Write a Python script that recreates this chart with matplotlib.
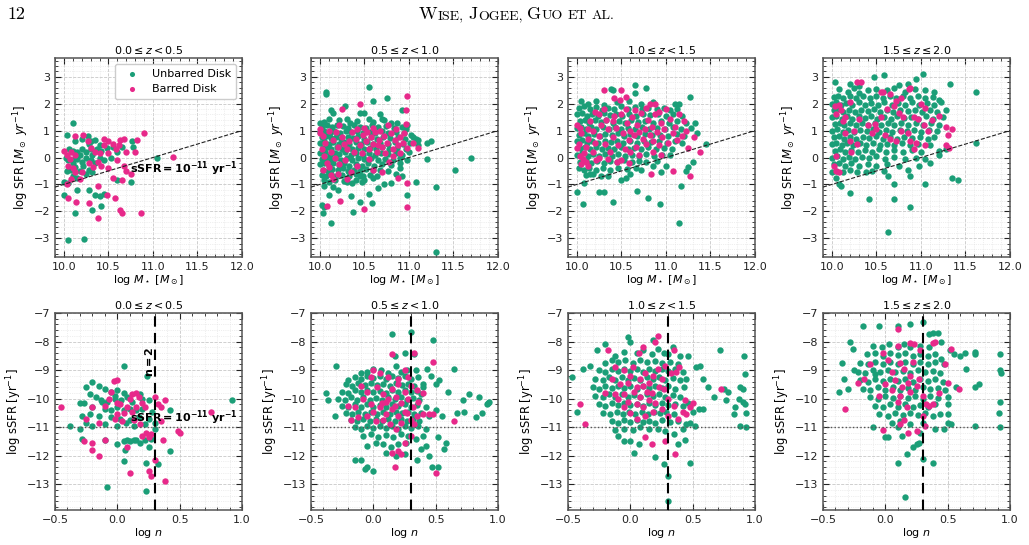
import numpy as np
import matplotlib
matplotlib.use('Agg')
import matplotlib.pyplot as plt
from matplotlib.ticker import MultipleLocator, AutoMinorLocator

# ---------------- data ----------------
z_labels = [r'$0.0 \leq z < 0.5$', r'$0.5 \leq z < 1.0$',
            r'$1.0 \leq z < 1.5$', r'$1.5 \leq z \leq 2.0$']
series_names = ['Unbarred Disk', 'Barred Disk']
ssfr_threshold = -11.0
n_threshold = 2.0

# top row: (log M*, log SFR)
msfr_unbarred_z1 = [
    (10.1, 1.27), (10.04, 0.85), (10.13, 0.6), (10.2, 0.7), (10.27, 0.8), (10.3, 0.6), (10.28, 0.5), (10.35, 0.65), (10.4, 0.45),
    (10.06, 0.3), (10.1, 0.25), (10.15, 0.2), (10.2, 0.3), (10.25, 0.2), (10.3, 0.3), (10.32, 0.1), (10.37, 0.3), (10.42, 0.25),
    (10.48, 0.35), (10.55, 0.4), (10.6, 0.2), (10.53, 0.0), (10.02, 0.0), (10.05, -0.1), (10.1, -0.2), (10.15, -0.05), (10.2, -0.15),
    (10.25, 0.0), (10.3, -0.1), (10.35, -0.2), (10.4, 0.0), (10.45, -0.1), (10.03, -0.5), (10.08, -0.45), (10.12, -0.35), (10.18, -0.5),
    (10.22, -0.3), (10.28, -0.45), (10.1, -0.7), (10.15, -0.75), (10.25, -0.6), (10.32, -0.55), (10.0, -0.9), (10.05, -0.95),
    (10.15, -1.2), (10.28, -1.2), (10.35, -1.4), (10.4, -1.45), (10.45, -1.35), (10.32, -1.95), (10.42, -1.8), (10.12, -2.05),
    (10.0, -1.4), (10.05, -3.08), (10.23, -3.02), (10.78, 0.4), (10.77, 0.6), (10.6, -0.85), (10.75, -0.9), (11.05, 0.0),
    (10.65, 0.4), (10.12, 0.0), (10.18, 0.1)]
msfr_barred_z1 = [
    (10.0, 0.25), (10.03, 0.1), (10.08, 0.2), (10.07, -0.05), (10.12, 0.1), (10.05, -0.3), (10.1, -0.4), (10.13, -0.55), (10.08, -0.8),
    (10.04, -1.0), (10.13, 0.8), (10.21, 0.85), (10.27, 0.6), (10.3, 0.35), (10.35, 0.2), (10.38, -0.15), (10.33, -0.35), (10.28, -0.2),
    (10.2, -0.55), (10.18, -0.8), (10.45, 0.7), (10.5, 0.6), (10.55, 0.5), (10.58, 0.3), (10.63, 0.65), (10.68, 0.68), (10.62, 0.45),
    (10.7, 0.2), (10.68, -0.3), (10.6, -0.1), (10.5, 0.15), (10.45, 0.45), (10.4, 0.15), (10.42, -0.3), (10.5, -0.4), (10.82, 0.65),
    (10.9, 0.92), (10.8, 0.2), (10.7, -0.5), (10.65, -0.85), (10.75, -0.6), (10.55, -0.75), (10.05, -1.5), (10.14, -1.65), (10.28, -1.7),
    (10.38, -1.05), (10.38, -2.25), (10.48, -1.4), (10.57, -1.5), (10.63, -1.95), (10.65, -2.05), (10.87, -2.05), (11.22, 0.02)]

msfr_unbarred_z2 = [
    (10.07, 2.45), (10.07, 2.35), (10.55, 2.62), (10.6, 2.1), (10.75, 2.2), (10.92, 1.78), (10.12, 1.75), (10.15, 1.65), (10.28, 1.9),
    (10.45, 1.65), (10.5, 1.65), (10.68, 1.6), (10.7, 1.45), (10.98, 1.2), (11.05, 0.75), (11.1, 0.65), (11.2, 0.55), (11.25, 0.62),
    (11.2, -0.05), (11.08, -0.9), (11.3, -1.1), (11.52, -0.45), (11.7, -0.02), (11.3, -3.5), (10.12, -2.42), (10.02, -1.78), (10.03, -2.08),
    (10.05, -1.85), (10.37, -2.03), (10.45, -1.65), (10.58, -1.7), (10.55, -1.35), (10.65, -1.15), (10.72, -1.0), (10.8, -0.95),
    (10.85, -0.6), (10.92, -0.7), (10.98, -1.4), (10.9, -0.4), (10.0, 1.3), (10.35, -1.45), (10.2, -1.2), (10.1, -1.4), (10.15, -1.1),
    (10.05, -1.05), (10.3, -0.9), (10.4, -0.85), (10.45, -0.7), (10.5, -0.85), (10.6, -0.75),
    (10.05, 1.32), (10.1, 1.45), (10.22, 1.38), (10.3, 1.42), (10.34, 1.3), (10.42, 1.35), (10.55, 1.43), (10.6, 1.33), (10.72, 1.38),
    (10.8, 1.3), (10.87, 1.28), (10.02, 1.15), (10.08, 1.2), (10.14, 1.12), (10.19, 1.22), (10.26, 1.18), (10.32, 1.1), (10.38, 1.2),
    (10.45, 1.15), (10.52, 1.08), (10.58, 1.2), (10.65, 1.12), (10.74, 1.17), (10.83, 1.1), (10.92, 1.15), (10.97, 1.05),
    (10.0, 0.95), (10.05, 1.0), (10.11, 0.92), (10.16, 0.98), (10.23, 0.9), (10.29, 1.0), (10.35, 0.93), (10.42, 0.97), (10.48, 0.9),
    (10.56, 0.96), (10.62, 0.9), (10.7, 0.98), (10.77, 0.92), (10.86, 0.95), (10.94, 0.9), (11.02, 0.85),
    (10.02, 0.75), (10.07, 0.8), (10.13, 0.72), (10.18, 0.78), (10.24, 0.7), (10.31, 0.77), (10.37, 0.72), (10.43, 0.8), (10.5, 0.7),
    (10.57, 0.75), (10.64, 0.7), (10.71, 0.78), (10.79, 0.72), (10.88, 0.76), (10.96, 0.7), (11.08, 0.7),
    (10.0, 0.55), (10.05, 0.6), (10.1, 0.5), (10.15, 0.57), (10.21, 0.5), (10.27, 0.58), (10.33, 0.52), (10.4, 0.56), (10.46, 0.5),
    (10.53, 0.58), (10.6, 0.5), (10.67, 0.55), (10.76, 0.5), (10.84, 0.56), (10.93, 0.5), (11.01, 0.55),
    (10.03, 0.35), (10.08, 0.4), (10.13, 0.3), (10.19, 0.38), (10.25, 0.32), (10.3, 0.4), (10.36, 0.3), (10.43, 0.37), (10.5, 0.3),
    (10.56, 0.36), (10.63, 0.3), (10.7, 0.38), (10.78, 0.32), (10.87, 0.36), (10.97, 0.3), (11.1, 0.45),
    (10.0, 0.15), (10.06, 0.2), (10.11, 0.1), (10.17, 0.18), (10.22, 0.12), (10.28, 0.2), (10.35, 0.1), (10.41, 0.17), (10.48, 0.1),
    (10.55, 0.16), (10.62, 0.1), (10.69, 0.18), (10.76, 0.12), (10.85, 0.15), (10.92, 0.1), (11.0, 0.2),
    (10.02, -0.05), (10.07, 0.0), (10.12, -0.08), (10.18, -0.02), (10.24, -0.1), (10.3, -0.03), (10.36, -0.08), (10.43, 0.0),
    (10.5, -0.07), (10.57, -0.02), (10.65, -0.1), (10.73, -0.04), (10.82, -0.08), (10.9, -0.02), (10.98, -0.1),
    (10.0, -0.25), (10.05, -0.2), (10.1, -0.3), (10.15, -0.22), (10.21, -0.28), (10.27, -0.2), (10.33, -0.3), (10.4, -0.25),
    (10.47, -0.3), (10.54, -0.22), (10.61, -0.3), (10.7, -0.25), (10.8, -0.28), (10.9, -0.2),
    (10.03, -0.45), (10.09, -0.5), (10.14, -0.42), (10.2, -0.48), (10.26, -0.4), (10.32, -0.5), (10.38, -0.45), (10.45, -0.5),
    (10.52, -0.42), (10.6, -0.48), (10.68, -0.45), (10.77, -0.5),
    (10.02, -0.65), (10.07, -0.7), (10.12, -0.62), (10.18, -0.7), (10.25, -0.65), (10.33, -0.7), (10.41, -0.62), (10.48, -0.68),
    (10.56, -0.65), (10.64, -0.7), (10.05, -0.85), (10.1, -0.9), (10.17, -0.82), (10.27, -0.88), (10.36, -0.95), (10.47, -0.9)]
msfr_barred_z2 = [
    (10.0, 1.05), (10.03, 0.8), (10.06, 0.55), (10.02, 0.3), (10.05, 0.05), (10.08, -0.2), (10.04, -0.45), (10.1, -0.35), (10.12, 0.2),
    (10.15, 0.65), (10.18, 0.95), (10.22, 1.2), (10.25, 0.75), (10.2, 0.4), (10.17, 0.0), (10.22, -0.25), (10.2, -0.6), (10.28, -0.1),
    (10.3, 0.3), (10.33, 0.6), (10.36, 0.95), (10.4, 0.7), (10.38, 0.2), (10.42, -0.3), (10.45, 0.45), (10.48, 0.85), (10.5, 1.1),
    (10.52, 0.6), (10.55, 0.3), (10.57, 0.75), (10.6, 0.5), (10.62, 0.95), (10.64, 0.2), (10.66, 0.65), (10.68, 1.0), (10.7, 0.4),
    (10.72, 0.8), (10.75, 0.55), (10.77, 1.2), (10.8, 0.9), (10.82, 0.3), (10.84, 0.65), (10.86, 1.05), (10.88, 0.45), (10.9, 0.75),
    (10.93, 0.55), (10.95, 0.9), (10.97, 1.25), (10.98, 0.35), (10.55, -0.05), (10.6, -0.45), (10.7, -0.55), (10.78, -0.15),
    (10.88, -0.75), (10.98, -0.95), (10.98, -1.85), (10.6, 1.1), (10.45, 2.0), (10.25, 1.8), (10.98, 2.3), (10.97, 1.75),
    (10.08, -1.8), (10.23, -1.62), (10.5, -1.9), (10.0, 0.9), (10.1, 1.0), (11.05, 0.55), (11.1, 0.35), (10.35, -0.55), (10.3, -0.8),
    (10.47, 0.15), (10.65, 0.45), (10.73, 0.15), (10.82, 0.05), (10.9, 0.15), (10.15, -0.8), (10.12, -0.65), (10.27, 0.5),
    (10.42, 1.05), (10.53, 0.95)]

msfr_unbarred_z3 = [
    (10.0, -1.3), (10.07, -1.72), (10.25, -1.3), (10.3, -1.3), (10.4, -1.65), (10.68, -1.25), (10.8, -1.5), (10.93, -1.73),
    (11.15, -2.45), (11.17, -1.05), (10.95, -0.55), (11.25, -0.35), (11.22, -0.5), (11.3, -0.15), (11.45, 0.5), (11.35, 0.9),
    (11.33, 1.3), (11.27, 2.25), (11.15, 2.0), (10.65, 2.68), (10.78, 2.6), (10.4, 2.5), (10.38, 2.55), (10.65, 2.4), (10.08, -0.95),
    (10.15, -0.6), (10.5, -0.85), (10.6, -0.6), (10.72, -0.45), (10.85, -0.3), (11.0, -0.3), (11.05, 0.1),
    (10.05, 2.1), (10.12, 2.0), (10.22, 2.1), (10.3, 1.95), (10.45, 2.05), (10.58, 2.1), (10.72, 2.0), (10.85, 2.05), (11.1, 2.0),
    (10.02, 1.85), (10.08, 1.9), (10.15, 1.8), (10.21, 1.88), (10.28, 1.78), (10.35, 1.85), (10.42, 1.8), (10.5, 1.9), (10.57, 1.82),
    (10.65, 1.88), (10.73, 1.8), (10.8, 1.85), (10.9, 1.8), (10.98, 1.85), (11.05, 1.75), (11.12, 1.8),
    (10.0, 1.6), (10.06, 1.65), (10.11, 1.55), (10.17, 1.62), (10.24, 1.55), (10.3, 1.65), (10.37, 1.58), (10.44, 1.62), (10.51, 1.55),
    (10.59, 1.6), (10.66, 1.55), (10.74, 1.62), (10.82, 1.57), (10.91, 1.6), (11.0, 1.55), (11.08, 1.6), (11.18, 1.55),
    (10.03, 1.35), (10.09, 1.4), (10.14, 1.3), (10.2, 1.38), (10.27, 1.32), (10.33, 1.4), (10.4, 1.3), (10.47, 1.37), (10.54, 1.3),
    (10.61, 1.38), (10.69, 1.32), (10.77, 1.36), (10.85, 1.3), (10.94, 1.35), (11.03, 1.3), (11.12, 1.35), (11.22, 1.3),
    (10.0, 1.1), (10.05, 1.15), (10.1, 1.05), (10.16, 1.12), (10.22, 1.05), (10.29, 1.13), (10.36, 1.07), (10.43, 1.12), (10.5, 1.05),
    (10.57, 1.1), (10.65, 1.05), (10.73, 1.13), (10.81, 1.07), (10.9, 1.1), (10.99, 1.05), (11.08, 1.12), (11.17, 1.05), (11.28, 1.1),
    (10.02, 0.85), (10.08, 0.9), (10.13, 0.8), (10.19, 0.88), (10.26, 0.8), (10.32, 0.88), (10.39, 0.82), (10.46, 0.9), (10.53, 0.8),
    (10.6, 0.87), (10.68, 0.8), (10.76, 0.88), (10.84, 0.82), (10.93, 0.85), (11.02, 0.8), (11.12, 0.88), (11.2, 0.8),
    (10.0, 0.6), (10.06, 0.65), (10.11, 0.55), (10.17, 0.62), (10.24, 0.55), (10.31, 0.63), (10.38, 0.57), (10.45, 0.62), (10.52, 0.55),
    (10.6, 0.6), (10.67, 0.55), (10.75, 0.62), (10.83, 0.57), (10.92, 0.6), (11.01, 0.55), (11.1, 0.62), (11.18, 0.55),
    (10.03, 0.35), (10.09, 0.4), (10.15, 0.3), (10.21, 0.38), (10.28, 0.3), (10.35, 0.37), (10.42, 0.3), (10.49, 0.38), (10.57, 0.32),
    (10.64, 0.37), (10.72, 0.3), (10.8, 0.38), (10.89, 0.32), (10.98, 0.35), (11.07, 0.3),
    (10.0, 0.1), (10.06, 0.15), (10.12, 0.05), (10.18, 0.12), (10.25, 0.05), (10.32, 0.13), (10.39, 0.07), (10.46, 0.12), (10.54, 0.05),
    (10.62, 0.1), (10.7, 0.05), (10.78, 0.12), (10.87, 0.05), (10.96, 0.1),
    (10.03, -0.15), (10.1, -0.1), (10.16, -0.2), (10.23, -0.12), (10.3, -0.2), (10.37, -0.12), (10.45, -0.18), (10.53, -0.1),
    (10.62, -0.18), (10.7, -0.12), (10.78, -0.18), (10.9, -0.12),
    (10.02, -0.4), (10.08, -0.45), (10.14, -0.38), (10.21, -0.45), (10.29, -0.4), (10.37, -0.45), (10.46, -0.38), (10.56, -0.42),
    (10.66, -0.4), (10.1, -0.65), (10.18, -0.6), (10.27, -0.68), (10.35, -0.7), (10.55, -0.75)]
msfr_barred_z3 = [
    (10.3, 2.52), (10.5, 2.5), (10.42, 2.2), (10.55, 2.25), (10.82, 2.0), (10.88, 2.0), (11.0, 1.8), (11.15, 1.6), (11.2, 1.35),
    (11.32, 0.75), (11.38, 0.2), (11.25, 0.35), (11.27, -0.7), (11.08, -0.5), (10.83, -0.6), (10.58, -0.2), (10.5, -0.1),
    (10.0, 1.2), (10.03, 1.1), (10.05, 0.9), (10.02, 0.5), (10.0, 0.35), (10.04, 0.05), (10.07, -0.05), (10.05, -0.25), (10.1, -0.15),
    (10.12, -0.3), (10.08, 0.15), (10.1, 0.4), (10.13, 0.7), (10.12, 1.05), (10.15, 1.35), (10.18, 1.0), (10.2, 0.55), (10.18, 0.2),
    (10.22, -0.1), (10.25, 0.8), (10.27, 1.2), (10.25, 1.6), (10.3, 1.8), (10.32, 0.5), (10.35, 1.05), (10.33, 1.4), (10.37, 0.2),
    (10.4, 0.75), (10.42, 1.55), (10.44, 1.1), (10.46, 0.45), (10.48, 2.15), (10.5, 1.6), (10.52, 0.9), (10.54, 0.3), (10.56, 1.3),
    (10.58, 0.65), (10.6, 1.0), (10.62, 1.5), (10.64, 0.85), (10.66, 0.4), (10.68, 1.2), (10.7, 0.95), (10.72, 1.65), (10.74, 0.7),
    (10.76, 1.05), (10.78, 0.5), (10.8, 1.4), (10.82, 0.85), (10.84, 1.15), (10.86, 0.6), (10.88, 1.6), (10.9, 0.95), (10.92, 0.45),
    (10.94, 1.3), (10.96, 0.75), (10.98, 1.05), (11.02, 0.55), (11.05, 1.45), (11.08, 0.9), (11.12, 0.65), (11.1, 1.15), (11.18, 0.8),
    (11.22, 1.0), (10.6, 0.2), (10.7, 0.1), (10.85, 0.2), (10.95, 0.1), (10.45, -0.15), (10.35, -0.05), (10.25, 0.0), (10.55, 1.8),
    (10.65, 1.75), (10.78, 1.85), (10.92, 1.7), (10.2, 1.7), (10.4, 1.35)]

msfr_unbarred_z4 = [
    (10.63, -2.78), (10.88, -1.85), (10.42, -1.55), (10.7, -1.55), (10.2, -1.32), (10.7, -1.0), (11.05, -1.0), (10.88, -0.7),
    (10.63, -0.7), (11.35, -0.75), (11.42, -0.82), (11.62, 0.55), (11.62, 2.45), (10.38, -0.55), (10.1, -1.05), (10.08, -1.0),
    (10.05, -0.75), (10.0, -0.55),
    (10.03, 2.8), (10.2, 2.75), (10.47, 3.0), (10.58, 3.05), (10.95, 2.92), (11.02, 3.1), (10.75, 2.7), (10.3, 2.65), (10.85, 2.75),
    (11.33, 2.72), (10.08, 2.55), (10.18, 2.45), (10.25, 2.6), (10.4, 2.5), (10.5, 2.55), (10.62, 2.5), (10.7, 2.6), (10.82, 2.45),
    (10.93, 2.55), (11.05, 2.5), (11.15, 2.45), (10.3, 2.4),
    (10.02, 2.25), (10.07, 2.3), (10.13, 2.2), (10.2, 2.3), (10.27, 2.2), (10.35, 2.28), (10.43, 2.2), (10.5, 2.3), (10.57, 2.22),
    (10.65, 2.28), (10.72, 2.2), (10.8, 2.3), (10.88, 2.2), (10.97, 2.28), (11.05, 2.2), (11.13, 2.25), (11.2, 2.15),
    (10.0, 2.0), (10.05, 2.05), (10.1, 1.95), (10.16, 2.03), (10.23, 1.95), (10.3, 2.05), (10.37, 1.97), (10.44, 2.03), (10.52, 1.95),
    (10.59, 2.05), (10.67, 1.97), (10.74, 2.03), (10.82, 1.95), (10.9, 2.05), (10.98, 1.97), (11.07, 2.03), (11.15, 1.95), (11.23, 2.05),
    (10.02, 1.75), (10.08, 1.8), (10.13, 1.7), (10.19, 1.78), (10.26, 1.7), (10.33, 1.78), (10.4, 1.72), (10.47, 1.8), (10.54, 1.7),
    (10.62, 1.77), (10.69, 1.7), (10.77, 1.78), (10.85, 1.72), (10.93, 1.78), (11.01, 1.7), (11.1, 1.77), (11.18, 1.7), (11.28, 1.75),
    (10.0, 1.5), (10.05, 1.55), (10.11, 1.45), (10.17, 1.53), (10.23, 1.45), (10.3, 1.53), (10.37, 1.47), (10.44, 1.55), (10.51, 1.45),
    (10.58, 1.52), (10.66, 1.45), (10.73, 1.53), (10.81, 1.47), (10.89, 1.52), (10.97, 1.45), (11.06, 1.53), (11.14, 1.45), (11.25, 1.5),
    (10.03, 1.25), (10.09, 1.3), (10.14, 1.2), (10.2, 1.28), (10.27, 1.2), (10.34, 1.28), (10.41, 1.22), (10.48, 1.3), (10.55, 1.2),
    (10.63, 1.27), (10.7, 1.2), (10.78, 1.28), (10.86, 1.22), (10.94, 1.27), (11.02, 1.2), (11.11, 1.28), (11.2, 1.2),
    (10.0, 1.0), (10.06, 1.05), (10.12, 0.95), (10.18, 1.03), (10.25, 0.95), (10.32, 1.03), (10.39, 0.97), (10.46, 1.05), (10.53, 0.95),
    (10.61, 1.02), (10.68, 0.95), (10.76, 1.03), (10.84, 0.97), (10.92, 1.02), (11.0, 0.95), (11.09, 1.03), (11.18, 0.97),
    (10.02, 0.75), (10.08, 0.8), (10.14, 0.7), (10.2, 0.78), (10.27, 0.7), (10.35, 0.78), (10.42, 0.72), (10.5, 0.8), (10.57, 0.7),
    (10.65, 0.77), (10.73, 0.7), (10.81, 0.78), (10.9, 0.72), (10.99, 0.77), (11.08, 0.7), (11.15, 0.75),
    (10.0, 0.5), (10.05, 0.55), (10.11, 0.45), (10.17, 0.53), (10.24, 0.45), (10.31, 0.53), (10.38, 0.47), (10.46, 0.55), (10.54, 0.45),
    (10.62, 0.52), (10.7, 0.45), (10.79, 0.53), (10.88, 0.47), (10.97, 0.52), (11.1, 0.45),
    (10.03, 0.25), (10.09, 0.3), (10.15, 0.2), (10.22, 0.28), (10.29, 0.2), (10.37, 0.28), (10.45, 0.22), (10.53, 0.3), (10.61, 0.2),
    (10.7, 0.27), (10.8, 0.2), (10.9, 0.28), (11.0, 0.2), (11.2, 0.25), (11.28, 0.3),
    (10.0, 0.0), (10.06, 0.05), (10.12, -0.05), (10.19, 0.03), (10.26, -0.05), (10.34, 0.03), (10.42, -0.03), (10.5, 0.05),
    (10.6, -0.05), (10.7, 0.02), (10.82, -0.05), (10.95, 0.0), (11.05, -0.05), (11.2, 0.1),
    (10.02, -0.25), (10.08, -0.2), (10.15, -0.3), (10.22, -0.22), (10.3, -0.3), (10.4, -0.25), (10.5, -0.3), (10.62, -0.25),
    (10.75, -0.3), (10.98, -0.3), (11.1, -0.2), (10.05, -0.5), (10.12, -0.55), (10.2, -0.45), (10.28, -0.55), (10.45, -0.5),
    (10.58, -0.5), (10.85, -0.45)]
msfr_barred_z4 = [
    (10.04, 1.9), (10.08, 1.95), (10.1, 1.75), (10.05, 1.6), (10.12, 1.35), (10.15, 1.5), (10.2, 2.05), (10.28, 2.8), (10.33, 2.8),
    (10.3, 1.45), (10.4, 1.2), (10.48, 1.25), (10.57, 2.45), (10.55, 2.45), (10.65, 2.35), (10.62, 1.8), (10.7, 1.9), (10.72, 2.1),
    (10.78, 2.2), (10.88, 2.6), (10.87, 2.55), (10.75, 1.65), (10.8, 1.5), (10.92, 1.5), (10.97, 1.45), (11.0, 2.0), (11.05, 1.85),
    (11.03, 1.2), (11.08, 1.0), (11.12, 1.4), (11.2, 1.55), (11.28, 1.15), (11.35, 1.05), (11.3, 0.85), (11.28, 0.45), (11.32, 0.35),
    (10.5, 1.05), (10.6, 0.85), (10.65, 0.7), (10.72, 0.6), (10.88, 0.6), (10.92, 0.3), (10.95, 0.55), (11.05, 0.45), (10.28, 0.5),
    (10.22, 0.2), (10.05, 0.05), (10.02, -0.3), (10.05, -0.5), (10.08, -0.55), (10.15, 0.9), (10.25, 1.0), (10.2, 0.6), (10.45, 0.9),
    (10.55, 1.5), (10.78, 1.0), (10.85, 0.9)]

# bottom row: (log n, log sSFR)
nssfr_unbarred_z1 = [
    (0.05, -8.85), (0.24, -9.2), (-0.2, -9.4), (-0.25, -9.6), (-0.15, -9.55), (-0.1, -9.65), (-0.05, -9.75), (0.0, -9.7), (0.05, -9.8),
    (-0.22, -9.85), (-0.17, -9.95), (-0.3, -10.15), (-0.27, -10.15), (-0.13, -10.05), (-0.08, -10.1), (-0.02, -10.0), (0.03, -10.05),
    (0.08, -9.95), (0.12, -10.1), (0.18, -9.85), (0.2, -10.0), (0.25, -10.05), (-0.2, -10.3), (-0.1, -10.35), (-0.05, -10.4),
    (0.0, -10.3), (0.05, -10.4), (0.1, -10.35), (0.15, -10.4), (0.2, -10.35), (0.28, -10.45), (-0.28, -10.6), (-0.22, -10.55),
    (-0.15, -10.6), (-0.05, -10.65), (0.02, -10.7), (0.1, -10.75), (0.17, -10.65), (0.25, -10.7), (-0.25, -10.85), (-0.2, -10.95),
    (-0.1, -10.9), (0.0, -10.95), (0.07, -10.85), (0.13, -10.95), (0.22, -10.9), (0.3, -10.85), (0.42, -10.4), (0.92, -10.05),
    (-0.38, -10.95), (-0.3, -11.05), (-0.28, -11.4), (-0.1, -11.45), (0.0, -11.6), (0.05, -11.5), (0.08, -11.45), (0.1, -11.5),
    (0.13, -11.45), (0.15, -11.45), (0.18, -11.55), (0.22, -11.45), (0.25, -11.7), (0.42, -11.85), (0.06, -11.8), (0.05, -12.2),
    (0.23, -12.25), (0.33, -12.3), (0.23, -13.25), (-0.08, -13.1), (0.27, -11.4), (0.3, -11.05), (-0.12, -10.1), (-0.02, -9.9)]
nssfr_barred_z1 = [
    (-0.45, -10.3), (-0.25, -10.7), (-0.2, -10.3), (-0.27, -11.5), (-0.2, -11.55), (-0.2, -11.8), (-0.15, -12.0), (-0.15, -10.85),
    (-0.1, -10.25), (-0.05, -9.75), (-0.03, -9.38), (0.0, -9.35), (-0.07, -10.0), (0.0, -10.15), (0.02, -10.2), (0.05, -10.5),
    (0.0, -10.55), (-0.02, -10.7), (0.04, -10.8), (0.08, -10.3), (0.1, -10.0), (0.12, -9.85), (0.15, -9.8), (0.17, -9.95), (0.2, -10.15),
    (0.22, -10.3), (0.15, -10.3), (0.13, -10.75), (0.18, -10.9), (0.2, -11.3), (0.23, -11.2), (0.25, -11.35), (0.27, -11.25),
    (0.3, -9.95), (0.33, -10.2), (0.35, -10.3), (0.38, -10.05), (0.35, -10.8), (0.37, -11.45), (0.25, -12.55), (0.27, -12.7),
    (0.3, -12.15), (0.38, -12.9), (0.1, -12.6), (-0.1, -11.45), (0.49, -11.15), (0.5, -11.2), (0.75, -10.45), (0.08, -11.7),
    (0.12, -10.45)]

nssfr_unbarred_z2 = [
    (0.15, -7.75), (0.3, -7.65), (0.48, -7.95), (0.25, -8.4), (0.17, -8.5), (0.33, -8.45), (-0.3, -8.85), (0.65, -8.95), (0.53, -9.35),
    (0.6, -9.75), (0.72, -10.05), (0.77, -9.85), (0.85, -9.95), (0.92, -10.15), (0.91, -10.2), (0.93, -10.1), (0.67, -10.5),
    (0.73, -10.45), (0.82, -10.65), (0.87, -10.5), (-0.38, -9.8), (-0.36, -10.05), (-0.31, -10.6), (-0.1, -12.15), (-0.07, -12.45),
    (-0.05, -12.4), (0.0, -12.55), (0.47, -12.4), (0.52, -12.4), (0.58, -11.55), (0.57, -11.75), (0.52, -11.35), (0.45, -12.0),
    (0.38, -11.75), (0.35, -12.15), (0.42, -11.65), (0.45, -10.6), (0.5, -10.4), (0.55, -10.6), (0.46, -9.2), (0.43, -8.95),
    (0.4, -9.6), (0.38, -9.85), (0.5, -9.5),
    (-0.05, -9.05), (0.0, -8.95), (0.06, -9.0), (0.12, -9.1), (0.18, -8.85), (0.22, -9.05), (0.27, -9.0), (0.34, -9.0), (-0.1, -9.1),
    (-0.15, -9.25), (-0.1, -9.3), (-0.05, -9.2), (0.0, -9.28), (0.05, -9.22), (0.1, -9.3), (0.15, -9.2), (0.2, -9.28), (0.25, -9.22),
    (0.3, -9.3), (0.36, -9.25), (-0.2, -9.35),
    (-0.22, -9.5), (-0.17, -9.55), (-0.12, -9.45), (-0.07, -9.52), (-0.02, -9.45), (0.03, -9.53), (0.08, -9.47), (0.13, -9.55),
    (0.18, -9.45), (0.23, -9.52), (0.28, -9.47), (0.33, -9.55), (0.4, -9.5),
    (-0.25, -9.75), (-0.2, -9.8), (-0.15, -9.7), (-0.1, -9.78), (-0.05, -9.7), (0.0, -9.78), (0.05, -9.72), (0.1, -9.8), (0.15, -9.7),
    (0.2, -9.77), (0.25, -9.7), (0.3, -9.78), (0.35, -9.72),
    (-0.28, -10.0), (-0.23, -10.05), (-0.18, -9.95), (-0.13, -10.03), (-0.08, -9.95), (-0.03, -10.03), (0.02, -9.97), (0.07, -10.05),
    (0.12, -9.95), (0.17, -10.02), (0.22, -9.95), (0.27, -10.03), (0.32, -9.97), (0.37, -10.05),
    (-0.25, -10.25), (-0.2, -10.3), (-0.15, -10.2), (-0.1, -10.28), (-0.05, -10.2), (0.0, -10.28), (0.05, -10.22), (0.1, -10.3),
    (0.15, -10.2), (0.2, -10.27), (0.25, -10.2), (0.3, -10.28), (0.35, -10.22), (0.42, -10.3),
    (-0.22, -10.5), (-0.17, -10.55), (-0.12, -10.45), (-0.07, -10.53), (-0.02, -10.45), (0.03, -10.53), (0.08, -10.47),
    (0.13, -10.55), (0.18, -10.45), (0.23, -10.52), (0.28, -10.47), (0.33, -10.55), (0.38, -10.5),
    (-0.18, -10.75), (-0.13, -10.8), (-0.08, -10.7), (-0.03, -10.78), (0.02, -10.7), (0.07, -10.78), (0.12, -10.72), (0.17, -10.8),
    (0.22, -10.7), (0.27, -10.77), (0.32, -10.72), (0.37, -10.8),
    (-0.15, -11.0), (-0.1, -11.05), (-0.05, -10.95), (0.0, -11.03), (0.05, -10.95), (0.1, -11.03), (0.15, -10.97), (0.2, -11.05),
    (0.25, -10.95), (0.3, -11.02), (0.36, -10.97), (0.42, -11.05),
    (-0.08, -11.3), (-0.02, -11.25), (0.04, -11.35), (0.1, -11.28), (0.16, -11.35), (0.22, -11.25), (0.28, -11.32), (0.34, -11.4),
    (0.4, -11.3), (-0.05, -11.65), (0.02, -11.55), (0.08, -11.6), (0.14, -11.7), (0.2, -11.6), (0.26, -11.55), (0.1, -11.9),
    (0.18, -12.0), (0.25, -11.95), (-0.15, -12.15)]
nssfr_barred_z2 = [
    (0.15, -8.45), (0.33, -8.4), (0.48, -8.7), (0.25, -9.0), (0.0, -9.0), (0.05, -9.1), (0.12, -9.25), (0.2, -9.3), (0.28, -9.25),
    (0.3, -9.55), (0.35, -9.7), (0.4, -9.8), (-0.1, -9.55), (-0.05, -9.75), (-0.08, -10.0), (-0.02, -10.2), (0.03, -9.6),
    (0.08, -9.85), (0.1, -10.1), (0.15, -9.65), (0.18, -9.95), (0.22, -10.15), (0.25, -9.75), (0.28, -10.0), (0.32, -10.3),
    (0.36, -10.1), (0.0, -10.45), (0.05, -10.3), (0.1, -10.55), (0.15, -10.35), (0.2, -10.6), (0.25, -10.45), (0.3, -10.75),
    (0.35, -10.6), (-0.05, -10.6), (0.02, -10.8), (0.08, -10.75), (0.13, -10.9), (0.18, -11.05), (0.22, -10.85), (-0.18, -10.75),
    (-0.12, -10.65), (-0.15, -10.3), (-0.2, -10.25), (0.4, -10.55), (0.45, -10.55), (0.48, -10.55), (0.65, -10.8), (0.5, -12.6),
    (0.17, -12.4), (0.2, -11.85), (0.22, -11.95), (0.15, -11.9), (0.25, -11.55), (0.3, -11.3), (0.33, -10.9), (0.12, -10.0),
    (0.07, -10.15), (0.17, -10.25), (0.27, -10.5), (-0.02, -9.25), (0.2, -9.5)]

nssfr_unbarred_z3 = [
    (-0.47, -9.25), (-0.43, -10.45), (-0.38, -8.95), (-0.32, -8.85), (-0.27, -8.3), (-0.2, -8.1), (-0.02, -7.85), (0.0, -8.0),
    (0.18, -7.95), (0.3, -8.45), (0.34, -8.2), (0.4, -8.5), (0.46, -8.5), (0.53, -8.9), (0.56, -8.85), (0.58, -9.3), (0.62, -9.6),
    (0.67, -9.95), (0.72, -8.3), (0.75, -9.65), (0.77, -10.05), (0.78, -9.75), (0.83, -10.55), (0.84, -10.3), (0.87, -10.0),
    (0.88, -9.6), (0.9, -9.65), (0.91, -8.5), (0.92, -9.15), (0.9, -10.1), (0.92, -10.2), (0.93, -10.5), (0.88, -10.95),
    (0.93, -11.0), (0.48, -12.25), (0.38, -11.6), (0.3, -12.7), (0.3, -13.6), (0.27, -12.3), (0.2, -12.05), (0.03, -11.9),
    (0.07, -11.6), (0.0, -11.5), (-0.05, -11.5), (-0.1, -11.3), (0.45, -10.9), (0.5, -10.45), (0.55, -10.35), (0.58, -10.35),
    (0.52, -10.95), (0.48, -10.85), (0.44, -11.45), (0.42, -11.05), (0.46, -10.15),
    (-0.12, -8.5), (-0.05, -8.35), (0.05, -8.4), (0.1, -8.3), (0.17, -8.45), (0.22, -8.25), (0.27, -8.4),
    (-0.2, -8.75), (-0.15, -8.65), (-0.1, -8.7), (-0.04, -8.65), (0.02, -8.75), (0.08, -8.65), (0.13, -8.72), (0.2, -8.68),
    (0.25, -8.75), (0.32, -8.7), (0.38, -8.8),
    (-0.25, -9.0), (-0.2, -9.05), (-0.15, -8.95), (-0.1, -9.03), (-0.05, -8.95), (0.0, -9.03), (0.05, -8.97), (0.1, -9.05),
    (0.15, -8.95), (0.2, -9.02), (0.25, -8.95), (0.3, -9.03), (0.36, -8.97), (0.42, -9.05),
    (-0.28, -9.3), (-0.22, -9.35), (-0.17, -9.25), (-0.12, -9.33), (-0.07, -9.25), (-0.02, -9.33), (0.03, -9.27), (0.08, -9.35),
    (0.13, -9.25), (0.18, -9.32), (0.23, -9.25), (0.28, -9.33), (0.34, -9.27), (0.4, -9.35), (0.45, -9.3),
    (-0.3, -9.6), (-0.25, -9.65), (-0.2, -9.55), (-0.15, -9.63), (-0.1, -9.55), (-0.05, -9.63), (0.0, -9.57), (0.05, -9.65),
    (0.1, -9.55), (0.15, -9.62), (0.2, -9.55), (0.25, -9.63), (0.3, -9.57), (0.36, -9.65), (0.43, -9.6),
    (-0.28, -9.9), (-0.22, -9.95), (-0.17, -9.85), (-0.12, -9.93), (-0.07, -9.85), (-0.02, -9.93), (0.03, -9.87), (0.08, -9.95),
    (0.13, -9.85), (0.18, -9.92), (0.23, -9.85), (0.28, -9.93), (0.34, -9.87), (0.4, -9.95),
    (-0.25, -10.2), (-0.2, -10.25), (-0.15, -10.15), (-0.1, -10.23), (-0.05, -10.15), (0.0, -10.23), (0.05, -10.17), (0.1, -10.25),
    (0.15, -10.15), (0.2, -10.22), (0.25, -10.15), (0.3, -10.23), (0.36, -10.17), (0.42, -10.25),
    (-0.22, -10.5), (-0.16, -10.55), (-0.11, -10.45), (-0.06, -10.53), (-0.01, -10.45), (0.04, -10.53), (0.09, -10.47),
    (0.14, -10.55), (0.19, -10.45), (0.24, -10.52), (0.29, -10.47), (0.35, -10.55),
    (-0.15, -10.8), (-0.1, -10.85), (-0.05, -10.75), (0.0, -10.83), (0.05, -10.75), (0.1, -10.83), (0.15, -10.77), (0.2, -10.85),
    (0.25, -10.75), (0.32, -10.82), (0.38, -10.78),
    (-0.12, -11.1), (-0.05, -11.05), (0.02, -11.1), (0.08, -11.0), (0.15, -11.08), (0.22, -11.05), (0.28, -11.15), (0.35, -11.25)]
nssfr_barred_z3 = [
    (-0.4, -10.2), (-0.36, -10.9), (-0.18, -8.3), (-0.2, -9.8), (-0.15, -9.3), (-0.12, -8.9), (-0.08, -9.5), (-0.05, -9.85),
    (-0.02, -10.1), (0.0, -9.2), (0.02, -8.9), (0.05, -9.6), (0.08, -9.95), (0.1, -10.3), (0.1, -8.2), (0.07, -8.4), (0.12, -9.1),
    (0.15, -9.45), (0.17, -9.8), (0.2, -10.15), (0.22, -8.95), (0.2, -8.0), (0.22, -7.8), (0.25, -9.3), (0.27, -9.65), (0.3, -10.0),
    (0.28, -8.85), (0.33, -9.1), (0.35, -8.3), (0.37, -9.05), (0.39, -8.9), (-0.1, -10.0), (-0.05, -10.3), (0.0, -10.5),
    (0.05, -10.2), (0.12, -10.6), (0.15, -10.05), (0.18, -10.45), (0.25, -10.35), (0.3, -10.6), (0.35, -10.25), (0.38, -10.7),
    (0.42, -10.45), (0.45, -10.55), (0.48, -10.3), (0.5, -10.15), (0.44, -10.05), (0.28, -11.5), (0.12, -11.35), (0.17, -11.6),
    (0.36, -11.95), (0.73, -9.65), (-0.05, -9.0), (-0.12, -9.85), (0.03, -9.75), (0.08, -9.3), (0.13, -9.75), (0.18, -9.2),
    (0.23, -9.6), (0.05, -10.7), (-0.02, -9.45), (0.1, -9.55)]

nssfr_unbarred_z4 = [
    (-0.37, -9.75), (-0.35, -8.75), (-0.33, -9.3), (-0.3, -9.65), (-0.28, -8.0), (-0.26, -8.25), (-0.25, -9.0), (-0.18, -7.45),
    (-0.08, -9.15), (-0.05, -7.45), (0.1, -7.45), (0.2, -7.4), (0.3, -7.3), (0.35, -7.75), (0.38, -7.7), (0.42, -7.7), (0.45, -8.0),
    (0.52, -8.3), (0.55, -8.45), (0.6, -8.5), (0.64, -8.4), (0.72, -8.35), (0.72, -8.45), (0.65, -8.95), (0.57, -9.6), (0.72, -9.6),
    (0.75, -9.5), (0.92, -8.45), (0.92, -9.0), (0.93, -9.1), (0.92, -10.1), (0.91, -10.5), (0.92, -11.0), (0.72, -10.95),
    (0.53, -10.9), (0.5, -10.85), (0.47, -11.05), (0.4, -11.05), (0.38, -12.25), (0.3, -12.1), (0.27, -11.55), (0.25, -11.6),
    (0.22, -11.7), (0.17, -11.95), (0.1, -12.25), (0.16, -13.45), (-0.1, -11.0), (0.0, -11.35), (0.02, -11.35), (0.1, -11.0),
    (0.13, -11.3), (0.28, -11.2), (0.5, -10.2), (0.5, -10.55),
    (-0.1, -8.15), (-0.03, -8.2), (0.03, -8.1), (0.1, -8.2), (0.15, -8.1), (0.2, -8.2), (0.28, -8.15), (0.35, -8.2),
    (-0.15, -8.45), (-0.08, -8.4), (-0.02, -8.5), (0.04, -8.4), (0.1, -8.48), (0.16, -8.4), (0.22, -8.5), (0.28, -8.42),
    (0.34, -8.5), (0.4, -8.45), (0.45, -8.6),
    (-0.2, -8.75), (-0.14, -8.8), (-0.08, -8.7), (-0.02, -8.78), (0.04, -8.7), (0.1, -8.78), (0.16, -8.72), (0.22, -8.8),
    (0.28, -8.7), (0.34, -8.77), (0.4, -8.72), (0.47, -8.8),
    (-0.22, -9.05), (-0.16, -9.1), (-0.1, -9.0), (-0.04, -9.08), (0.02, -9.0), (0.08, -9.08), (0.14, -9.02), (0.2, -9.1),
    (0.26, -9.0), (0.32, -9.07), (0.38, -9.02), (0.44, -9.1),
    (-0.2, -9.35), (-0.14, -9.4), (-0.08, -9.3), (-0.02, -9.38), (0.04, -9.3), (0.1, -9.38), (0.16, -9.32), (0.22, -9.4),
    (0.28, -9.3), (0.34, -9.37), (0.4, -9.32), (0.46, -9.4),
    (-0.18, -9.65), (-0.12, -9.7), (-0.06, -9.6), (0.0, -9.68), (0.06, -9.6), (0.12, -9.68), (0.18, -9.62), (0.24, -9.7),
    (0.3, -9.6), (0.36, -9.67), (0.42, -9.62), (0.48, -9.7),
    (-0.12, -9.95), (-0.06, -10.0), (0.0, -9.9), (0.06, -9.98), (0.12, -9.9), (0.18, -9.98), (0.24, -9.92), (0.3, -10.0),
    (0.36, -9.9), (0.42, -9.97), (0.5, -9.95),
    (-0.08, -10.25), (-0.02, -10.3), (0.04, -10.2), (0.1, -10.28), (0.16, -10.2), (0.22, -10.28), (0.28, -10.22), (0.34, -10.3),
    (0.4, -10.2), (-0.05, -10.55), (0.02, -10.6), (0.08, -10.5), (0.14, -10.58), (0.2, -10.5), (0.26, -10.58), (0.32, -10.52),
    (0.38, -10.6), (0.44, -10.55), (0.05, -10.85), (0.12, -10.8), (0.2, -10.9), (0.3, -10.85)]
nssfr_barred_z4 = [
    (-0.32, -10.35), (-0.22, -9.45), (-0.17, -9.3), (-0.12, -8.8), (-0.05, -9.9), (-0.02, -11.1), (-0.02, -8.4), (0.02, -8.65),
    (0.05, -9.05), (0.1, -8.15), (0.08, -9.35), (0.12, -8.75), (0.15, -8.95), (0.13, -9.6), (0.1, -10.1), (0.18, -9.45), (0.2, -9.2),
    (0.22, -8.7), (0.25, -9.55), (0.2, -9.75), (0.17, -10.3), (0.15, -10.75), (0.12, -10.9), (0.1, -7.55), (0.2, -8.05), (0.23, -8.1),
    (0.28, -8.3), (0.27, -9.3), (0.3, -9.9), (0.33, -10.2), (0.3, -10.6), (0.32, -10.95), (0.35, -10.25), (0.38, -10.2),
    (0.38, -8.05), (0.4, -8.0), (0.43, -9.8), (0.48, -8.8), (0.5, -9.45), (0.53, -8.25), (0.59, -9.65), (0.18, -11.2), (0.25, -11.15),
    (0.05, -9.7), (0.0, -9.5), (0.12, -9.9)]

top_unbarred = [msfr_unbarred_z1, msfr_unbarred_z2, msfr_unbarred_z3, msfr_unbarred_z4]
top_barred = [msfr_barred_z1, msfr_barred_z2, msfr_barred_z3, msfr_barred_z4]
bot_unbarred = [nssfr_unbarred_z1, nssfr_unbarred_z2, nssfr_unbarred_z3, nssfr_unbarred_z4]
bot_barred = [nssfr_barred_z1, nssfr_barred_z2, nssfr_barred_z3, nssfr_barred_z4]

# ---------------- style ----------------
GREEN = '#1b9e77'
PINK = '#e7298a'
W, H = 1029, 545
fig = plt.figure(figsize=(W / 100, H / 100), dpi=100)

lefts_px = [55, 311, 568, 823]
width_px = 187


def style_axes(ax):
    ax.tick_params(which='both', direction='in', top=True, right=True, colors='#222222', labelsize=8)
    ax.tick_params(which='major', length=4, width=0.8)
    ax.tick_params(which='minor', length=2, width=0.6)
    ax.xaxis.set_minor_locator(AutoMinorLocator())
    ax.yaxis.set_minor_locator(AutoMinorLocator())
    ax.grid(True, which='major', ls='--', color='#c8c8c8', lw=0.6)
    ax.grid(True, which='minor', ls=':', color='#e0e0e0', lw=0.5)
    ax.set_axisbelow(True)
    for s in ax.spines.values():
        s.set_color('#555555')
        s.set_linewidth(1.1)


ms = 21
for i in range(4):
    # top row
    ax = fig.add_axes([lefts_px[i] / W, 1 - 257 / H, width_px / W, 199 / H])
    style_axes(ax)
    u = np.array(top_unbarred[i]); b = np.array(top_barred[i])
    ax.scatter(u[:, 0], u[:, 1], s=ms, color=GREEN, lw=0, label=series_names[0], zorder=3)
    ax.scatter(b[:, 0], b[:, 1], s=ms, color=PINK, lw=0, label=series_names[1], zorder=3)
    xl = np.array([9.9, 12.0])
    ax.plot(xl, xl + ssfr_threshold, ls='--', color='#222222', lw=0.8, zorder=4)
    ax.set_xlim(9.9, 12.0)
    ax.set_ylim(-3.7, 3.7)
    ax.xaxis.set_major_locator(MultipleLocator(0.5))
    ax.yaxis.set_major_locator(MultipleLocator(1))
    ax.set_title(z_labels[i], fontsize=8, pad=3)
    ax.set_xlabel(r'log $M_\star$ [$M_\odot$]', fontsize=8, labelpad=1)
    ax.set_ylabel(r'log SFR [$M_\odot\ yr^{-1}$]', fontsize=8.3, labelpad=2)
    if i == 0:
        ax.legend(loc='upper right', fontsize=8, handletextpad=0.8, borderpad=0.5, markerscale=0.8,
                  labelspacing=0.4, scatterpoints=1, framealpha=1, edgecolor='#cccccc')
        ax.text(10.74, -0.42, r'$\mathbf{sSFR = 10^{-11}\ yr^{-1}}$', fontsize=8, va='center', zorder=5)

    # bottom row
    ax = fig.add_axes([lefts_px[i] / W, 1 - 510 / H, width_px / W, 197 / H])
    style_axes(ax)
    u = np.array(bot_unbarred[i]); b = np.array(bot_barred[i])
    ax.scatter(u[:, 0], u[:, 1], s=ms, color=GREEN, lw=0, zorder=3)
    ax.scatter(b[:, 0], b[:, 1], s=ms, color=PINK, lw=0, zorder=3)
    ax.axhline(ssfr_threshold, ls=':', color='#555555', lw=1.0, zorder=4)
    ax.axvline(np.log10(n_threshold), ls=(0, (5, 3)), color='black', lw=1.5, zorder=4)
    ax.set_xlim(-0.5, 1.0)
    ax.set_ylim(-13.9, -7.0)
    ax.xaxis.set_major_locator(MultipleLocator(0.5))
    ax.yaxis.set_major_locator(MultipleLocator(1))
    ax.set_title(z_labels[i], fontsize=8, pad=3)
    ax.set_xlabel(r'log $n$', fontsize=8, labelpad=1)
    ax.set_ylabel(r'log sSFR [yr$^{-1}$]', fontsize=8.3, labelpad=2)
    if i == 0:
        ax.text(0.105, -10.68, r'$\mathbf{sSFR = 10^{-11}\ yr^{-1}}$', fontsize=8, va='center', zorder=5)
        ax.text(0.255, -8.7, r'$\mathbf{n = 2}$', fontsize=8, rotation=90, va='center', ha='center', zorder=5)

# ---------------- page header ----------------
fig.text(7 / W, 1 - 14 / H, '12', fontsize=13, family='cmr10', va='center', ha='left')
renderer = fig.canvas.get_renderer()
segments = [('W', 13), ('ISE,', 10), (None, 4), ('J', 13), ('OGEE,', 10), (None, 4), ('G', 13), ('UO', 10),
            (None, 4), ('ET', 10), (None, 4), ('AL.', 10)]
widths = []
objs = []
for txt, size in segments:
    if txt is None:
        widths.append(size); objs.append(None)
        continue
    t = fig.text(0, 1 - 14 / H, txt, fontsize=size, family='cmr10', va='baseline', ha='left')
    bb = t.get_window_extent(renderer)
    widths.append(bb.width); objs.append(t)
total = sum(widths)
x = 515 - total / 2
base_y = 1 - 19 / H
for (txt, size), w, t in zip(segments, widths, objs):
    if t is not None:
        t.set_position((x / W, base_y))
    x += w + (0.5 if t is not None else 0)

fig.savefig('out.png', dpi=100)
